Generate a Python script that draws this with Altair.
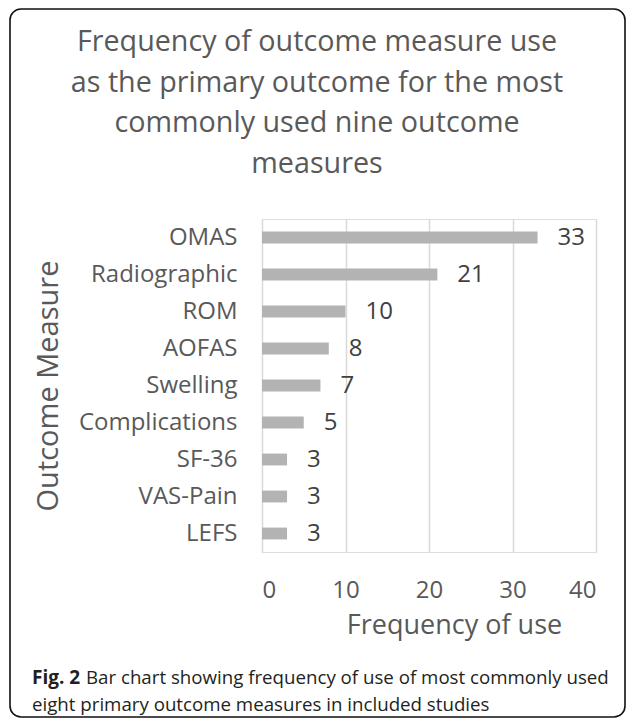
import altair as alt
import pandas as pd

measures = ["OMAS", "Radiographic", "ROM", "AOFAS", "Swelling",
            "Complications", "SF-36", "VAS-Pain", "LEFS"]
counts = [33, 21, 10, 8, 7, 5, 3, 3, 3]
x_ticks = [0, 10, 20, 30, 40]
title_lines = ["Frequency of outcome measure use",
               "as the primary outcome for the most",
               "commonly used nine outcome",
               "measures"]
x_title = "Frequency of use"
y_title = "Outcome Measure"
caption_bold = "Fig. 2"
caption_line1 = "Bar chart showing frequency of use of most commonly used"
caption_line2 = "eight primary outcome measures in included studies"

df = pd.DataFrame({"measure": measures, "count": counts})

W, H = 334, 333
PAD_L, PAD_T = 254, 211
PAD_R, PAD_B = 30, 166

FONT = "Open Sans"
GREY_TXT = "#595959"

x_enc = alt.X(
    "count:Q",
    scale=alt.Scale(domain=[0, 40], nice=False),
    axis=alt.Axis(
        values=x_ticks, title=x_title, grid=True, gridColor="#d9d9d9",
        gridWidth=1.5, ticks=False, tickSize=0, domain=False,
        labelFontSize=24, labelColor=GREY_TXT, labelFont=FONT,
        labelPadding=26, titleFontSize=27, titleColor=GREY_TXT,
        titleFont=FONT, titleFontWeight="normal", titleX=192, titleY=73,
        titleBaseline="middle", titleAlign="center",
    ),
)
y_enc = alt.Y(
    "measure:N", sort=measures,
    scale=alt.Scale(paddingInner=0.68, paddingOuter=0.34),
    axis=alt.Axis(
        title=y_title, grid=False, ticks=False, tickSize=0, domain=False,
        labelFontSize=24, labelColor=GREY_TXT, labelFont=FONT,
        labelPadding=25, titleFontSize=29, titleColor=GREY_TXT,
        titleFont=FONT, titleFontWeight="normal", titleX=-214,
        titleY=H / 2, titleAngle=270, titleBaseline="middle",
        titleAlign="center",
    ),
)

bars = alt.Chart(df).mark_bar(color="#b3b3b3").encode(x=x_enc, y=y_enc)
labels = alt.Chart(df).mark_text(
    align="left", baseline="middle", dx=20, fontSize=24, font=FONT,
    color="#404040",
).encode(x="count:Q", y=alt.Y("measure:N", sort=measures), text="count:Q")

one = pd.DataFrame({"k": [0]})
frame = alt.Chart(one).mark_rect(
    filled=False, stroke="#111111", strokeWidth=1.6, cornerRadius=11,
).encode(
    x=alt.value(-252), x2=alt.value(363),
    y=alt.value(-210), y2=alt.value(498),
)

title = alt.Chart(one).mark_text(
    align="center", baseline="middle", fontSize=28.7, font=FONT,
    color=GREY_TXT, lineHeight=40.5,
).encode(x=alt.value(55), y=alt.value(-177), text=alt.value(title_lines))

cap_bold = alt.Chart(one).mark_text(
    align="left", baseline="middle", fontSize=19, font=FONT,
    fontWeight="bold", color="#231f20",
).encode(x=alt.value(-230), y=alt.value(459), text=alt.value(caption_bold))
cap1 = alt.Chart(one).mark_text(
    align="left", baseline="middle", fontSize=18.7, font=FONT,
    color="#231f20",
).encode(x=alt.value(-176), y=alt.value(459), text=alt.value(caption_line1))
cap2 = alt.Chart(one).mark_text(
    align="left", baseline="middle", fontSize=18.7, font=FONT,
    color="#231f20",
).encode(x=alt.value(-230), y=alt.value(486), text=alt.value(caption_line2))

chart = alt.layer(frame, title, bars, labels, cap_bold, cap1, cap2).properties(
    width=W, height=H,
    padding={"left": PAD_L, "top": PAD_T, "right": PAD_R, "bottom": PAD_B},
    autosize=alt.AutoSizeParams(type="none"),
).configure_view(stroke=None).configure(background="white")

chart.save("out.html", embed_options={"renderer": "svg", "actions": False})
